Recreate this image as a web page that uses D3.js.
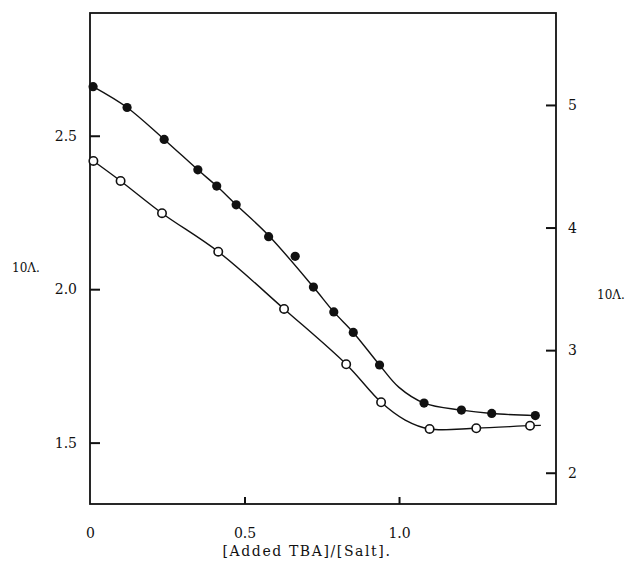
<!DOCTYPE html>
<html>
<head>
<meta charset="utf-8">
<script src="https://cdn.jsdelivr.net/npm/d3@7"></script>
<style>
	body { margin: 0; background: #fff; }
	svg { display: block; }
	.tick line { stroke: #111; stroke-width: 2; }
	.frame { fill: none; stroke: #111; stroke-width: 1.8; }
	.fit { fill: none; stroke: #111; stroke-width: 1.4; }
</style>
</head>
<body>
<svg width="633" height="565"></svg>
<script>
// [Added TBA]/[Salt] for the filled points, left axis (10Λ)
const filledX = [0.01, 0.12, 0.24, 0.349, 0.41, 0.473, 0.578, 0.664, 0.723, 0.789, 0.852, 0.937, 1.081, 1.202, 1.30, 1.441];
const filledY = [2.66, 2.592, 2.488, 2.389, 2.336, 2.275, 2.171, 2.107, 2.007, 1.926, 1.859, 1.753, 1.629, 1.606, 1.595, 1.588];

// open points, right axis (10Λ)
const openX = [0.011, 0.099, 0.233, 0.415, 0.628, 0.829, 0.942, 1.099, 1.25, 1.424];
const openY = [4.543, 4.38, 4.117, 3.803, 3.336, 2.885, 2.575, 2.357, 2.363, 2.384];

// hand-drawn curves through the points
const filledFitX = [0.01, 0.12, 0.24, 0.349, 0.41, 0.473, 0.578, 0.723, 0.789, 0.852, 0.937, 1.0, 1.081, 1.202, 1.30, 1.441];
const filledFitY = [2.66, 2.592, 2.488, 2.389, 2.336, 2.275, 2.175, 2.007, 1.926, 1.859, 1.753, 1.68, 1.629, 1.606, 1.595, 1.588];
const openFitX = [0.011, 0.099, 0.233, 0.415, 0.628, 0.829, 0.942, 1.02, 1.099, 1.25, 1.424, 1.459];
const openFitY = [4.543, 4.38, 4.117, 3.803, 3.336, 2.885, 2.575, 2.43, 2.357, 2.363, 2.384, 2.386];

const xTicks = [0, 0.5, 1.0];
const leftTicks = [1.5, 2.0, 2.5];
const rightTicks = [2, 3, 4, 5];

const serif = 'DejaVu Serif, Liberation Serif, serif';

const svg = d3.select('svg').attr('font-family', serif).style('font-family', serif);
const margin = { top: 13, right: 77, bottom: 61, left: 90 };
const width = 633 - margin.left - margin.right;
const height = 565 - margin.top - margin.bottom;

const g = svg.append('g').attr('transform', `translate(${margin.left},${margin.top})`);

const x = d3.scaleLinear().domain([0, 1.508]).range([0, width]);
const yLeft = d3.scaleLinear().domain([1.3, 2.9]).range([height, 0]);
const yRight = d3.scaleLinear().domain([1.745, 5.75]).range([height, 0]);

g.append('rect').attr('class', 'frame').attr('width', width).attr('height', height);

function styleAxis(a) {
	a.attr('font-family', serif).attr('font-size', 14);
	a.select('.domain').remove();
	a.selectAll('text').attr('fill', '#111');
}

g.append('g')
	.attr('transform', `translate(0,${height})`)
	.call(d3.axisBottom(x).tickValues(xTicks).tickSizeInner(-7).tickSizeOuter(0).tickPadding(24)
		.tickFormat((d) => d === 0 ? '0' : d3.format('.1f')(d)))
	.call(styleAxis)
	.call((a) => a.selectAll('.tick').filter((d) => d === 0).select('line').remove());

g.append('g')
	.call(d3.axisLeft(yLeft).tickValues(leftTicks).tickSizeInner(-10).tickSizeOuter(0).tickPadding(13)
		.tickFormat(d3.format('.1f')))
	.call(styleAxis);

g.append('g')
	.attr('transform', `translate(${width},0)`)
	.call(d3.axisRight(yRight).tickValues(rightTicks).tickSizeInner(-10).tickSizeOuter(0).tickPadding(12)
		.tickFormat(d3.format('d')))
	.call(styleAxis);

const lineLeft = d3.line().x((d) => x(d[0])).y((d) => yLeft(d[1])).curve(d3.curveCatmullRom.alpha(0.5));
const lineRight = d3.line().x((d) => x(d[0])).y((d) => yRight(d[1])).curve(d3.curveCatmullRom.alpha(0.5));

g.append('path').attr('class', 'fit').attr('d', lineLeft(d3.zip(filledFitX, filledFitY)));
g.append('path').attr('class', 'fit').attr('d', lineRight(d3.zip(openFitX, openFitY)));

g.selectAll('.filled')
	.data(d3.zip(filledX, filledY))
	.enter()
	.append('circle')
	.attr('class', 'filled')
	.attr('cx', (d) => x(d[0]))
	.attr('cy', (d) => yLeft(d[1]))
	.attr('r', 4.6)
	.attr('fill', '#111');

g.selectAll('.open')
	.data(d3.zip(openX, openY))
	.enter()
	.append('circle')
	.attr('class', 'open')
	.attr('cx', (d) => x(d[0]))
	.attr('cy', (d) => yRight(d[1]))
	.attr('r', 4.2)
	.attr('fill', '#fff')
	.attr('stroke', '#111')
	.attr('stroke-width', 1.6);

svg.append('text')
	.text('[Added TBA]/[Salt].')
	.attr('x', 307)
	.attr('y', 556)
	.attr('text-anchor', 'middle')
	.attr('font-size', 14)
	.attr('letter-spacing', 1.6)
	.attr('fill', '#111');

svg.append('text')
	.text('10Λ.')
	.attr('x', 12)
	.attr('y', 272)
	.attr('font-size', 12)
	.attr('fill', '#111');

svg.append('text')
	.text('10Λ.')
	.attr('x', 597)
	.attr('y', 299)
	.attr('font-size', 12)
	.attr('fill', '#111');
</script>
</body>
</html>
